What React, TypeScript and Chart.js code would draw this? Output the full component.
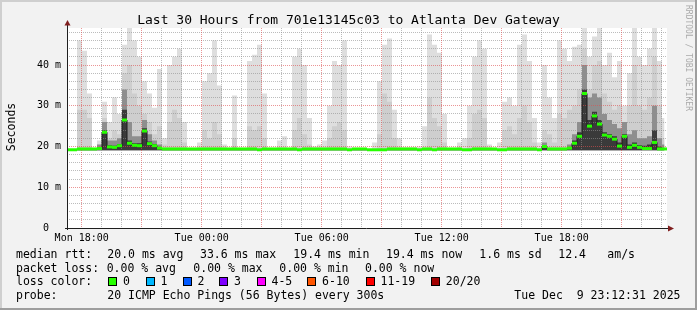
import React, { useEffect, useRef } from "react";
import { Chart, registerables } from "chart.js";

Chart.register(...registerables);

// ---------- data ----------
const startHour = 17.265; // Mon 17:16 (hours since Mon 00:00)
const spanHours = 30;
const binHours = 0.25;
const yMax = 49.08;
const smokeBase = 19.1;

const dayNames = ["Mon", "Tue"];
const hourTicks = [18, 19, 20, 21, 22, 23, 24, 25, 26, 27, 28, 29, 30, 31, 32, 33, 34, 35, 36, 37, 38, 39, 40, 41, 42, 43, 44, 45, 46, 47];
const msTicks = [0, 2, 4, 6, 8, 10, 12, 14, 16, 18, 20, 22, 24, 26, 28, 30, 32, 34, 36, 38, 40, 42, 44, 46, 48];

const smokeMax = [
  19.4, 19.4, 46, 43.5, 33, 19.4, 21.5, 31, 26, 32,
  28, 45, 49.1, 46, 42, 36, 33, 29.5, 39, 22,
  40, 42, 44, 26, 19.4, 19.4, 21, 36, 38, 46,
  35, 20.5, 19.4, 32.5, 19.4, 19.4, 41, 42.5, 45, 33,
  19.4, 19.4, 21.5, 22.5, 19.4, 42, 44, 40, 27, 20,
  20.5, 21.5, 30, 41, 40, 46, 20, 19.4, 19.4, 19.4,
  19.4, 21, 36, 45, 46.5, 29, 22, 19.8, 19.8, 19.8,
  20, 25, 47.5, 45, 43, 28, 19.6, 19.6, 21, 22,
  30, 42, 46, 44, 20.5, 19.4, 21, 31, 32, 30,
  45, 47.5, 41, 27, 21, 40, 32, 27, 46, 44,
  41, 44.5, 45, 49.1, 42, 47, 49.1, 40, 43, 37,
  41, 30, 38, 49.1, 42, 40, 44, 49.1, 41, 27,
];

const smokeMid = [
  19.4, 19.4, 29, 29, 27, 19.4, 20.5, 27, 22, 24,
  23, 38, 40, 33, 30, 28, 26, 23, 25, 20.5,
  26, 29, 27, 21, 19.4, 19.4, 19.4, 24, 22, 26,
  23, 19.4, 19.4, 22, 19.4, 19.4, 25, 24, 25, 22,
  19.4, 19.4, 19.4, 19.4, 19.4, 24, 27, 23, 20.5, 19.4,
  19.4, 19.4, 22, 25, 26, 24, 19.4, 19.4, 19.4, 19.4,
  19.4, 19.4, 23, 33, 31, 22, 19.4, 19.4, 19.4, 19.4,
  19.4, 19.4, 32, 27, 25, 21, 19.4, 19.4, 19.4, 19.4,
  22, 28, 29, 27, 19.4, 19.4, 19.4, 24, 25, 23,
  27, 30, 26, 21, 19.4, 24, 23, 21, 28, 27,
  29, 30, 34, 44, 34, 40, 41, 33, 31, 29,
  30, 26, 30, 40, 30, 29, 32, 42, 30, 22,
];

const smokeDark = [
  19.4, 19.4, 19.4, 19.4, 19.4, 19.4, 20.5, 26, 21.5, 21.5,
  22, 34, 26, 22.5, 22.5, 26.5, 23, 21.5, 20.5, 19.4,
  19.4, 19.4, 19.4, 19.4, 19.4, 19.4, 19.4, 19.4, 19.4, 19.4,
  19.4, 19.4, 19.4, 19.4, 19.4, 19.4, 19.4, 19.4, 19.4, 19.4,
  19.4, 19.4, 19.4, 19.4, 19.4, 19.4, 19.4, 19.4, 19.4, 19.4,
  19.4, 19.4, 19.4, 19.4, 19.4, 19.4, 19.4, 19.4, 19.4, 19.4,
  19.4, 19.4, 19.4, 19.4, 19.4, 19.4, 19.4, 19.4, 19.4, 19.4,
  19.4, 19.4, 19.4, 19.4, 19.4, 19.4, 19.4, 19.4, 19.4, 19.4,
  19.4, 19.4, 19.4, 19.4, 19.4, 19.4, 19.4, 19.4, 19.4, 19.4,
  19.4, 19.4, 19.4, 19.4, 19.4, 21, 19.4, 19.4, 19.4, 19.4,
  20.5, 23, 26, 40, 32, 33, 32, 28, 26.5, 25.5,
  24.5, 26, 23, 24, 22, 22, 22.5, 30, 22, 20.5,
];

const smokeCore = [
  19.4, 19.4, 19.4, 19.4, 19.4, 19.4, 19.4, 24, 20.3, 20.2,
  20.6, 29, 21.5, 20.8, 20.8, 24.5, 21.2, 20.6, 19.8, 19.4,
  19.4, 19.4, 19.4, 19.4, 19.4, 19.4, 19.4, 19.4, 19.4, 19.4,
  19.4, 19.4, 19.4, 19.4, 19.4, 19.4, 19.4, 19.4, 19.4, 19.4,
  19.4, 19.4, 19.4, 19.4, 19.4, 19.4, 19.4, 19.4, 19.4, 19.4,
  19.4, 19.4, 19.4, 19.4, 19.4, 19.4, 19.4, 19.4, 19.4, 19.4,
  19.4, 19.4, 19.4, 19.4, 19.4, 19.4, 19.4, 19.4, 19.4, 19.4,
  19.4, 19.4, 19.4, 19.4, 19.4, 19.4, 19.4, 19.4, 19.4, 19.4,
  19.4, 19.4, 19.4, 19.4, 19.4, 19.4, 19.4, 19.4, 19.4, 19.4,
  19.4, 19.4, 19.4, 19.4, 19.4, 20.2, 19.4, 19.4, 19.4, 19.4,
  19.8, 21.5, 23.5, 34, 26.5, 28.5, 26.5, 23.5, 23, 22.5,
  21, 23, 20.5, 21, 20.3, 20.2, 20.5, 24, 20, 19.6,
];

const median = [
  19.2, 19.2, 19.4, 19.4, 19.4, 19.4, 19.5, 23.5, 19.9, 19.8,
  20.2, 26.5, 20.8, 20.3, 20.2, 23.8, 20.7, 20.2, 19.6, 19.4,
  19.4, 19.4, 19.4, 19.4, 19.4, 19.4, 19.4, 19.4, 19.4, 19.4,
  19.4, 19.4, 19.4, 19.4, 19.4, 19.4, 19.4, 19.4, 19.2, 19.4,
  19.4, 19.4, 19.4, 19.4, 19.4, 19.4, 19.2, 19.4, 19.4, 19.4,
  19.4, 19.4, 19.4, 19.4, 19.4, 19.4, 19.2, 19.4, 19.4, 19.4,
  19.2, 19.2, 19.2, 19.2, 19.4, 19.4, 19.4, 19.4, 19.4, 19.4,
  19.2, 19.4, 19.4, 19.2, 19.4, 19.4, 19.4, 19.4, 19.4, 19.2,
  19.2, 19.4, 19.4, 19.4, 19.4, 19.4, 19.2, 19.2, 19.4, 19.4,
  19.4, 19.4, 19.4, 19.4, 19.2, 20, 19.4, 19.4, 19.4, 19.4,
  19.6, 20.8, 22.5, 33, 25, 27.5, 25.5, 22.8, 22.5, 21.8,
  20.1, 22.5, 19.8, 20.3, 19.8, 19.5, 19.5, 21, 19.4, 19.4,
];

const titleText = "Last 30 Hours from 701e13145c03 to Atlanta Dev Gateway";
const yAxisTitle = "Seconds";
const watermark = "RRDTOOL / TOBI OETIKER";
const rttLabel = "median rtt:";
const rttStats = ["20.0 ms avg", "33.6 ms max", "19.4 ms min", "19.4 ms now", "1.6 ms sd", "12.4", "am/s"];
const lossLabel = "packet loss:";
const lossStats = ["0.00 % avg", "0.00 % max", "0.00 % min", "0.00 % now"];
const lossColorLabel = "loss color:";
const lossLabels = ["0", "1", "2", "3", "4-5", "6-10", "11-19", "20/20"];
const lossColors = ["#26ff00", "#00b8ff", "#0059ff", "#7e00ff", "#ff00ff", "#ff5500", "#ff0000", "#a10000"];
const probeLabel = "probe:";
const probeText = "20 ICMP Echo Pings (56 Bytes) every 300s";
const stampText = "Tue Dec  9 23:12:31 2025";

// ---------- layout / style ----------
const MONO = "'DejaVu Sans Mono', monospace";
const W = 697;
const H = 310;
const rttX = [107.3, 200, 293.3, 386, 479.3, 558.3, 607.3];
const lossX = [106.7, 193.3, 279.3, 365];
const boxX = [108.3, 145.7, 182.7, 219.3, 256.7, 307.3, 365.7, 431];
const rowY = [258, 271.5, 285, 298.5];

const toPoints = (arr: number[]) => arr.map((v, i) => ({ x: startHour + (i + 0.5) * binHours, y: v }));

const smokeDataset = (label: string, arr: number[], color: string, order: number) => ({
  label,
  data: toPoints(arr),
  order,
  stepped: "middle" as const,
  borderColor: "rgba(0,0,0,0)",
  borderWidth: 0,
  pointRadius: 0,
  pointHoverRadius: 0,
  backgroundColor: color,
  fill: { value: smokeBase },
});

const rrdPlugin = {
  id: "rrd",
  beforeDraw(chart: any) {
    const { ctx, chartArea: a } = chart;
    ctx.save();
    ctx.fillStyle = "#f2f2f2";
    ctx.fillRect(0, 0, W, H);
    ctx.fillStyle = "#cfcfcf";
    ctx.fillRect(0, 0, W, 2);
    ctx.fillRect(0, 0, 2, H);
    ctx.fillStyle = "#9e9e9e";
    ctx.fillRect(0, H - 2, W, 2);
    ctx.fillRect(W - 2, 0, 2, H);
    ctx.fillStyle = "#ffffff";
    ctx.fillRect(a.left, a.top, a.right - a.left, a.bottom - a.top);
    ctx.restore();
  },
  beforeDatasetDraw(chart: any, args: any) {
    if (args.index !== 0) return;
    // grid drawn over the smoke, under the median
    const { ctx, chartArea: a, scales } = chart;
    const xs = scales.x;
    const ys = scales.y;
    ctx.save();
    ctx.lineWidth = 1;
    ctx.setLineDash([1, 1]);
    const minor = "rgba(143,143,143,0.6)";
    const major = "rgba(222,79,79,0.6)";
    for (const pass of [0, 1]) {
      for (const t of ys.ticks) {
        if (t.value === 0) continue;
        const isMajor = t.value % 10 === 0;
        if ((pass === 1) !== isMajor) continue;
        const py = Math.floor(ys.getPixelForValue(t.value)) + 0.5;
        ctx.strokeStyle = isMajor ? major : minor;
        ctx.beginPath();
        ctx.moveTo(a.left, py);
        ctx.lineTo(a.right, py);
        ctx.stroke();
      }
      for (const t of xs.ticks) {
        const isMajor = t.value % 3 === 0;
        if ((pass === 1) !== isMajor) continue;
        const px = Math.floor(xs.getPixelForValue(t.value)) + 0.5;
        ctx.strokeStyle = isMajor ? major : minor;
        ctx.beginPath();
        ctx.moveTo(px, a.top);
        ctx.lineTo(px, a.bottom);
        ctx.stroke();
      }
    }
    ctx.restore();
  },
  afterDraw(chart: any) {
    const { ctx, chartArea: a } = chart;
    ctx.save();
    // axes
    ctx.strokeStyle = "#1f1f1f";
    ctx.lineWidth = 1;
    ctx.beginPath();
    ctx.moveTo(a.left - 2, a.bottom + 0.5);
    ctx.lineTo(a.right + 1, a.bottom + 0.5);
    ctx.moveTo(a.left + 0.5, a.bottom + 2);
    ctx.lineTo(a.left + 0.5, a.top - 3);
    ctx.stroke();
    ctx.fillStyle = "#801f1f";
    ctx.beginPath();
    ctx.moveTo(a.right + 1, a.bottom - 2.5);
    ctx.lineTo(a.right + 7, a.bottom + 0.5);
    ctx.lineTo(a.right + 1, a.bottom + 3.5);
    ctx.closePath();
    ctx.fill();
    ctx.beginPath();
    ctx.moveTo(a.left - 2.5, a.top - 2.5);
    ctx.lineTo(a.left + 0.5, a.top - 8);
    ctx.lineTo(a.left + 3.5, a.top - 2.5);
    ctx.closePath();
    ctx.fill();

    // title
    ctx.fillStyle = "#000";
    ctx.font = `13px ${MONO}`;
    ctx.textAlign = "center";
    ctx.textBaseline = "alphabetic";
    ctx.fillText(titleText, W / 2, 24);

    // y axis title
    ctx.save();
    ctx.font = `11.5px ${MONO}`;
    ctx.translate(14.5, (a.top + a.bottom) / 2 - 1);
    ctx.rotate(-Math.PI / 2);
    ctx.textAlign = "center";
    ctx.fillText(yAxisTitle, 0, 0);
    ctx.restore();

    // watermark
    ctx.save();
    ctx.font = `8px ${MONO}`;
    ctx.fillStyle = "#aaaaaa";
    ctx.translate(686, 5);
    ctx.rotate(Math.PI / 2);
    ctx.textAlign = "left";
    ctx.fillText(watermark, 0, 0);
    ctx.restore();

    // legend
    ctx.font = `11.5px ${MONO}`;
    ctx.textAlign = "left";
    ctx.fillStyle = "#000";
    ctx.fillText(rttLabel, 16, rowY[0]);
    rttStats.forEach((s, i) => ctx.fillText(s, rttX[i], rowY[0]));
    ctx.fillText(lossLabel, 16, rowY[1]);
    lossStats.forEach((s, i) => ctx.fillText(s, lossX[i], rowY[1]));
    ctx.fillText(lossColorLabel, 16, rowY[2]);
    lossLabels.forEach((s, i) => {
      const bx = Math.round(boxX[i]);
      const by = Math.round(rowY[2] - 8);
      ctx.fillStyle = lossColors[i];
      ctx.fillRect(bx, by, 8, 8);
      ctx.strokeStyle = "#000";
      ctx.strokeRect(bx + 0.5, by + 0.5, 8, 8);
      ctx.fillStyle = "#000";
      ctx.fillText(s, boxX[i] + 14.8, rowY[2]);
    });
    ctx.fillText(probeLabel, 16, rowY[3]);
    ctx.fillText(probeText, 107.3, rowY[3]);
    ctx.textAlign = "right";
    ctx.fillText(stampText, 680.5, rowY[3]);
    ctx.restore();
  },
};

export default function App() {
  const ref = useRef<HTMLCanvasElement>(null);
  useEffect(() => {
    const canvas = ref.current;
    if (!canvas) return;
    const chart = new Chart(canvas, {
      type: "line",
      data: {
        datasets: [
          {
            label: "median",
            data: toPoints(median),
            order: 1,
            stepped: "middle",
            borderColor: "#1c1c1c",
            borderWidth: 1,
            pointStyle: "line",
            pointRadius: 2.5,
            pointHoverRadius: 2.5,
            pointBorderColor: lossColors[0],
            pointBackgroundColor: lossColors[0],
            pointBorderWidth: 3,
            fill: false,
          } as any,
          smokeDataset("core smoke", smokeCore, "#3a3a3a", 2) as any,
          smokeDataset("dark smoke", smokeDark, "#8e8e8e", 3) as any,
          smokeDataset("mid smoke", smokeMid, "#cecece", 4) as any,
          smokeDataset("max smoke", smokeMax, "#dedede", 5) as any,
        ],
      },
      options: {
        animation: false,
        responsive: false,
        devicePixelRatio: 1,
        events: [],
        layout: { padding: { left: 0, top: 28, right: 30, bottom: 0 } },
        plugins: {
          legend: { display: false },
          tooltip: { enabled: false },
          title: { display: false },
        },
        scales: {
          x: {
            type: "linear",
            min: startHour,
            max: startHour + spanHours,
            afterBuildTicks: (s: any) => {
              s.ticks = hourTicks.map((v) => ({ value: v }));
            },
            afterFit: (s: any) => {
              s.height = 82;
            },
            grid: { display: false, drawTicks: false },
            border: { display: false },
            ticks: {
              autoSkip: false,
              maxRotation: 0,
              minRotation: 0,
              padding: 4,
              color: "#000",
              font: { family: MONO, size: 10 },
              callback: (v: any) => {
                const h = Number(v);
                if (h % 6 !== 0) return "";
                const hh = String(h % 24).padStart(2, "0");
                return `${dayNames[Math.floor(h / 24)]} ${hh}:00`;
              },
            },
          },
          y: {
            type: "linear",
            min: 0,
            max: yMax,
            afterBuildTicks: (s: any) => {
              s.ticks = msTicks.map((v) => ({ value: v }));
            },
            afterFit: (s: any) => {
              s.width = 67;
            },
            grid: { display: false, drawTicks: false },
            border: { display: false },
            ticks: {
              autoSkip: false,
              padding: 6,
              color: "#000",
              font: { family: MONO, size: 10 },
              callback: (v: any) => {
                const n = Number(v);
                if (n % 10 !== 0) return "";
                return n === 0 ? "0  " : `${n} m`;
              },
            },
          },
        },
      } as any,
      plugins: [rrdPlugin],
    });
    return () => chart.destroy();
  }, []);
  return (
    <div style={{ position: "absolute", left: 0, top: 0, width: W, height: H }}>
      <canvas ref={ref} width={W} height={H} style={{ display: "block", width: W, height: H }} />
    </div>
  );
}
